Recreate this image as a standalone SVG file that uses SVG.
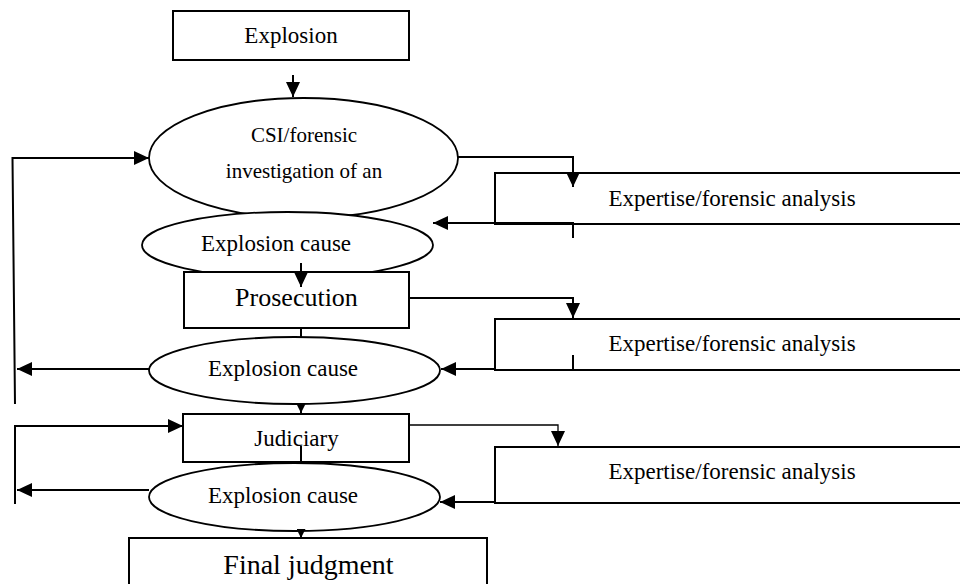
<svg xmlns="http://www.w3.org/2000/svg" width="960" height="584" viewBox="0 0 960 584">
  <style>
    .box { fill: #fff; stroke: #000; stroke-width: 2; }
    .oval { fill: #fff; stroke: #000; stroke-width: 1.8; }
    .lbl { font-family: "Liberation Serif", "Times New Roman", serif; fill: #000; text-anchor: middle; }
    .f21 { font-size: 21px; }
    .f23 { font-size: 23px; }
    .f26 { font-size: 26px; }
    .f28 { font-size: 28px; }
    .wire { fill: none; stroke: #000; stroke-width: 2; }
    .thin { stroke-width: 1.3; }
    .head { marker-end: url(#ah); }
    .head-sm { marker-end: url(#ah-sm); }
  </style>
  <defs>
    <marker id="ah" viewBox="0 0 15 14" refX="15" refY="7" markerWidth="15" markerHeight="14" markerUnits="userSpaceOnUse" orient="auto">
      <path d="M0,0 L15,7 L0,14 z" fill="#000"/>
    </marker>
    <marker id="ah-sm" viewBox="0 0 9 9" refX="9" refY="4.5" markerWidth="9" markerHeight="9" markerUnits="userSpaceOnUse" orient="auto">
      <path d="M0,0 L9,4.5 L0,9 z" fill="#000"/>
    </marker>
  </defs>

  <rect width="960" height="584" fill="#fff"/>

  <g id="explosion">
    <rect class="box" x="173" y="11" width="236" height="49"/>
    <text class="lbl f23" x="291" y="43">Explosion</text>
  </g>

  <g id="csi">
    <ellipse class="oval" cx="303.5" cy="158" rx="154.5" ry="60"/>
    <text class="lbl f21" x="304" y="142">CSI/forensic</text>
    <text class="lbl f21" x="304" y="178">investigation of an</text>
  </g>

  <g id="cause-1">
    <ellipse class="oval" cx="287.5" cy="245" rx="145.5" ry="33"/>
    <text class="lbl f23" x="276" y="251">Explosion cause</text>
  </g>

  <g id="prosecution">
    <rect class="box" x="184" y="272" width="225" height="56"/>
    <text class="lbl f26" x="296.5" y="306">Prosecution</text>
  </g>

  <g id="cause-2">
    <ellipse class="oval" cx="294.5" cy="370.5" rx="145.5" ry="33.5"/>
    <text class="lbl f23" x="283" y="376">Explosion cause</text>
  </g>

  <g id="judiciary">
    <rect class="box" x="183" y="414" width="226" height="48"/>
    <text class="lbl f23" x="296.5" y="446">Judiciary</text>
  </g>

  <g id="cause-3">
    <ellipse class="oval" cx="294.5" cy="497" rx="145.5" ry="34"/>
    <text class="lbl f23" x="283" y="503">Explosion cause</text>
  </g>

  <g id="final-judgment">
    <rect class="box" x="129" y="538" width="358" height="60"/>
    <text class="lbl f28" x="308.5" y="574">Final judgment</text>
  </g>

  <g id="expertise-1">
    <rect class="box" x="495" y="173" width="480" height="51"/>
    <text class="lbl f23" x="732" y="206">Expertise/forensic analysis</text>
  </g>

  <g id="expertise-2">
    <rect class="box" x="495" y="319" width="480" height="51"/>
    <text class="lbl f23" x="732" y="351">Expertise/forensic analysis</text>
  </g>

  <g id="expertise-3">
    <rect class="box" x="495" y="447" width="480" height="56"/>
    <text class="lbl f23" x="732" y="479">Expertise/forensic analysis</text>
  </g>

  <g id="connectors">
    <!-- main flow, top to bottom -->
    <path class="wire head" d="M293,75 V97"/>
    <path class="wire head" d="M301,263 V287"/>
    <path class="wire" d="M301,328 V337"/>
    <path class="wire head-sm" d="M301,404 V413"/>
    <path class="wire" d="M301,446 V462"/>
    <path class="wire head-sm" d="M301,531 V538"/>

    <!-- requests out to the expert analyses -->
    <path class="wire head" d="M458,157 H573 V187"/>
    <path class="wire head" d="M409,298 H573 V318"/>
    <path class="wire thin head" d="M409,425 H558 V446"/>

    <!-- analysis results back to the cause ovals -->
    <path class="wire head" d="M573,238 V223 H433"/>
    <path class="wire" d="M573,355 V370"/>
    <path class="wire head" d="M495,369 H441"/>
    <path class="wire head" d="M495,502 H440"/>

    <!-- feedback loops on the left -->
    <path class="wire head" d="M149,369 H17"/>
    <path class="wire head" d="M15,404 L12.5,158 H149"/>
    <path class="wire head" d="M149,490 H17"/>
    <path class="wire head" d="M15,504 V426 H183"/>
  </g>
</svg>
